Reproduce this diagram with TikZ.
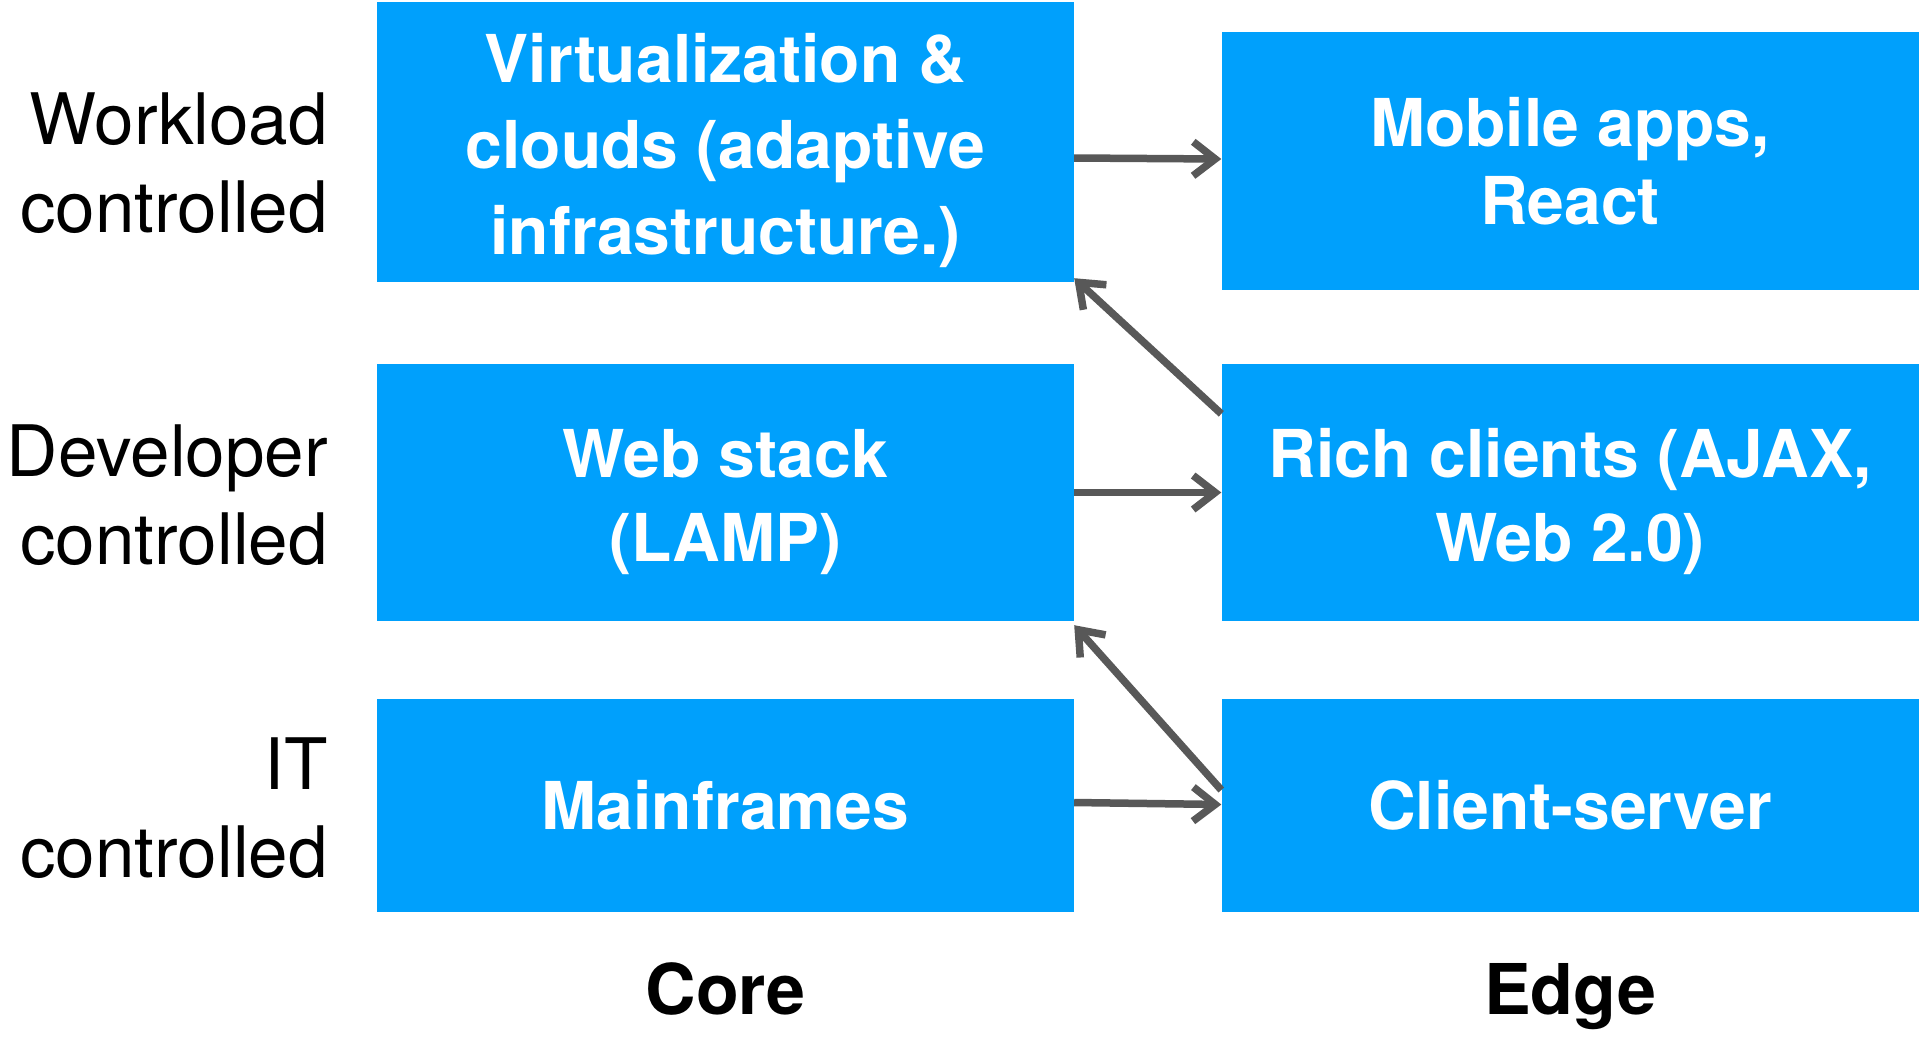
\documentclass[tikz,border=0pt]{standalone}
\usepackage{fontspec}
\setmainfont{TeX Gyre Heros}
\usetikzlibrary{arrows.meta}
\definecolor{boxblue}{RGB}{0,160,252}
\definecolor{arrgray}{RGB}{88,88,88}
\begin{document}
\begin{tikzpicture}[x=1pt,y=-1pt,
  box/.style={fill=boxblue, draw=none, text=white, align=center, inner sep=0pt,
    minimum width=697pt, font=\fontsize{66}{84}\selectfont\bfseries},
  lab/.style={align=right, anchor=east, inner sep=0pt, font=\fontsize{71}{88}\selectfont},
  axislab/.style={anchor=base, inner sep=0pt, font=\fontsize{70}{84}\selectfont\bfseries},
  arr/.style={draw=arrgray, line width=7.5pt, -{Straight Barb[length=22pt,width=34pt]}}]
\useasboundingbox (0,0) rectangle (1920,1061);
\fill[white] (0,0) rectangle (1920,1061);

% core column
\node[box, minimum height=280pt, font=\fontsize{66}{86}\selectfont\bfseries] (v) at (725.5,142)
  {\rule{0pt}{66pt}Virtualization \&\\clouds (adaptive\\infrastructure.)};
\node[box, minimum height=257pt] (w) at (725.5,492.5) {\rule{0pt}{68pt}Web stack\\(LAMP)};
\node[box, minimum height=213pt] (mf) at (725.5,805.5) {Mainframes};

% edge column
\node[box, minimum height=258pt, font=\fontsize{66}{78}\selectfont\bfseries] (m) at (1570,161) {Mobile apps,\\React};
\node[box, minimum height=257pt] (r) at (1570,492.5) {\rule{0pt}{68pt}Rich clients (AJAX,\\Web 2.0)};
\node[box, minimum height=213pt] (cs) at (1570,805.5) {Client-server};

% row labels
\node[lab] (l1) at (328,163) {Workload\\controlled};
\node[lab] (l2) at (328,495) {Developer\\controlled};
\node[lab] (l3) at (328,808) {IT\\controlled};

% column labels
\node[axislab] (core) at (725.5,1014) {Core};
\node[axislab] (edge) at (1570,1014) {Edge};

% connectors
\draw[arr] ([yshift=3pt]v.east |- m.west) -- ([yshift=2pt]m.west);
\draw[arr] (w.east) -- (r.west);
\draw[arr] ([yshift=3pt]mf.east) -- ([yshift=1pt]cs.west);
\draw[arr] ([yshift=-50pt]r.north west) -- ([yshift=4pt]v.south east);
\draw[arr] ([yshift=15.5pt]cs.west) -- ([yshift=-4pt]w.south east);
\end{tikzpicture}
\end{document}
